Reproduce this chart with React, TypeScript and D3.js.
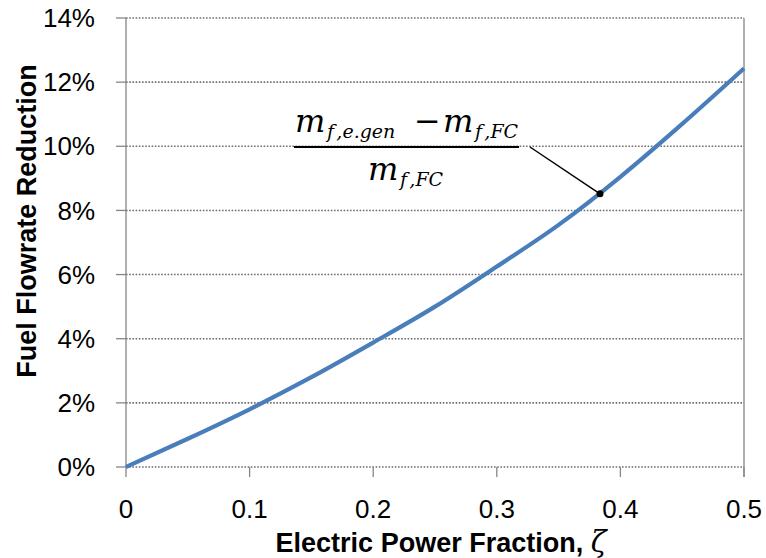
import React from "react";
import * as d3 from "d3";

const zeta = [0, 0.05, 0.1, 0.15, 0.2, 0.25, 0.3, 0.35, 0.4, 0.45, 0.5];
const reduction = [0, 0.0088, 0.018, 0.028, 0.0388, 0.05, 0.0625, 0.0755, 0.0905, 0.107, 0.1243];
const xTicks = [0, 0.1, 0.2, 0.3, 0.4, 0.5];
const yTicks = [0, 0.02, 0.04, 0.06, 0.08, 0.1, 0.12, 0.14];
const annotPoint = { x: 0.3835, y: 0.0852 };
const xTitle = "Electric Power Fraction, ";
const xTitleSymbol = "ζ";
const yTitle = "Fuel Flowrate Reduction";

const W = 766, H = 558;
const left = 126, right = 744, top = 18, bottom = 467;

export default function App() {
  const x = d3.scaleLinear().domain([0, 0.5]).range([left, right]);
  const y = d3.scaleLinear().domain([0, 0.14]).range([bottom, top]);
  const data = zeta.map((z, i) => [z, reduction[i]] as [number, number]);
  const line = d3.line<[number, number]>().x(d => x(d[0])).y(d => y(d[1])).curve(d3.curveMonotoneX);
  const fmtX = (v: number) => (v === 0 ? "0" : d3.format(".1f")(v));
  const fmtY = d3.format(".0%");
  const gray = "#868686";
  const px = x(annotPoint.x), py = y(annotPoint.y);
  const serif = "'DejaVu Serif', serif";
  return (
    <svg width={W} height={H} style={{ position: "absolute", left: 0, top: 0, background: "#fff" }}
      fontFamily="'Liberation Sans', Arial, sans-serif">
      {/* gridlines */}
      {yTicks.map(t => (
        <line key={"g" + t} x1={left} x2={right} y1={y(t)} y2={y(t)} stroke="#6e6e6e" strokeWidth={1.6} strokeDasharray="1.6,1.6" />
      ))}
      {/* axes */}
      <line x1={left} x2={left} y1={top} y2={bottom} stroke={gray} strokeWidth={1.3} />
      <line x1={right} x2={right} y1={top} y2={bottom + 10} stroke={gray} strokeWidth={1.3} />
      {yTicks.map(t => (
        <g key={"yt" + t}>
          <line x1={left - 10} x2={left} y1={y(t)} y2={y(t)} stroke={gray} strokeWidth={1.3} />
          <text x={95} y={y(t)} dy="0.35em" textAnchor="end" fontSize={26} fill="#000">{fmtY(t)}</text>
        </g>
      ))}
      {xTicks.map(t => (
        <g key={"xt" + t}>
          <line x1={x(t)} x2={x(t)} y1={bottom} y2={bottom + 10} stroke={gray} strokeWidth={1.3} />
          <text x={x(t)} y={518} textAnchor="middle" fontSize={26} fill="#000">{fmtX(t)}</text>
        </g>
      ))}
      {/* data line */}
      <path d={line(data) || ""} fill="none" stroke="#4a7ebb" strokeWidth={4.2} strokeLinejoin="round" />
      {/* annotation */}
      <line x1={530} y1={147} x2={px} y2={py} stroke="#000" strokeWidth={1.5} />
      <circle cx={px} cy={py} r={3.5} fill="#000" />
      <line x1={294} x2={519} y1={147} y2={147} stroke="#000" strokeWidth={2} />
      <g fontFamily={serif} fontStyle="italic" fill="#000">
        <text x={295} y={132} fontSize={32}>m</text>
        <text x={327} y={138} fontSize={19}>f<tspan dx={3}>,e.gen</tspan></text>
        <text x={414} y={132} fontSize={32} fontStyle="normal">−</text>
        <text x={443} y={132} fontSize={32}>m</text>
        <text x={475} y={138} fontSize={19}>f<tspan dx={3}>,FC</tspan></text>
        <text x={368} y={180} fontSize={32}>m</text>
        <text x={400} y={186} fontSize={19}>f<tspan dx={3}>,FC</tspan></text>
      </g>
      {/* titles */}
      <text x={441} y={552} textAnchor="middle" fontSize={27} fontWeight="bold" fill="#000">
        {xTitle}<tspan fontFamily={serif} fontWeight="normal" fontStyle="italic" fontSize={29}>{xTitleSymbol}</tspan>
      </text>
      <text transform={`translate(36,221) rotate(-90)`} textAnchor="middle" fontSize={27} fontWeight="bold" fill="#000">{yTitle}</text>
    </svg>
  );
}
